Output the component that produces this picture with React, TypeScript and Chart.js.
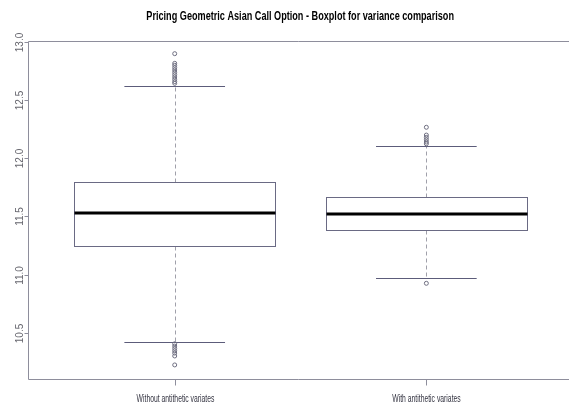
import React, { useEffect, useRef } from "react";
import { Chart, registerables } from "chart.js";

Chart.register(...registerables);

const chartTitle = "Pricing Geometric Asian Call Option - Boxplot for variance comparison";
const categories = ["Without antithetic variates", "With antithetic variates"];
const positions = [1, 2];
const lowerWhisker = [10.418, 10.968];
const q1 = [11.246, 11.383];
const median = [11.532, 11.524];
const q3 = [11.799, 11.67];
const upperWhisker = [12.622, 12.108];
const outliersWithout = [12.9, 12.817, 12.8, 12.78, 12.76, 12.74, 12.72, 12.7, 12.68, 12.66, 12.645, 10.405, 10.385, 10.365, 10.345, 10.325, 10.3, 10.223];
const outliersWith = [12.267, 12.2, 12.18, 12.16, 12.14, 12.125, 10.925];
const yTicks = [10.5, 11.0, 11.5, 12.0, 12.5, 13.0];
const yMin = 10.102;
const yMax = 13.009;
const xMin = 0.417;
const xMax = 2.547;
const boxWidth = 0.8;

function condensedText(ctx: CanvasRenderingContext2D, text: string, x: number, y: number, squeeze: number) {
  ctx.save();
  ctx.translate(x, y);
  ctx.scale(squeeze, 1);
  ctx.fillText(text, 0, 0);
  ctx.restore();
}

const boxPlugin = {
  id: "boxplotR",
  beforeDatasetsDraw(chart: any) {
    const { ctx } = chart;
    const xs = chart.scales.x;
    const ys = chart.scales.y;
    ctx.save();
    positions.forEach((p, i) => {
      const cx = Math.round(xs.getPixelForValue(p)) + 0.5;
      const left = xs.getPixelForValue(p - boxWidth / 2);
      const right = xs.getPixelForValue(p + boxWidth / 2);
      const capL = xs.getPixelForValue(p - boxWidth / 4);
      const capR = xs.getPixelForValue(p + boxWidth / 4);
      const yLW = Math.round(ys.getPixelForValue(lowerWhisker[i])) + 0.5;
      const yQ1 = Math.round(ys.getPixelForValue(q1[i])) + 0.5;
      const yMed = Math.round(ys.getPixelForValue(median[i]));
      const yQ3 = Math.round(ys.getPixelForValue(q3[i])) + 0.5;
      const yUW = Math.round(ys.getPixelForValue(upperWhisker[i])) + 0.5;
      ctx.strokeStyle = "#a0a0aa";
      ctx.lineWidth = 1;
      ctx.setLineDash([4, 3]);
      ctx.beginPath();
      ctx.moveTo(cx, yQ3);
      ctx.lineTo(cx, yUW);
      ctx.moveTo(cx, yQ1);
      ctx.lineTo(cx, yLW);
      ctx.stroke();
      ctx.setLineDash([]);
      ctx.strokeStyle = "#5c5c7a";
      ctx.beginPath();
      ctx.moveTo(capL, yUW);
      ctx.lineTo(capR, yUW);
      ctx.moveTo(capL, yLW);
      ctx.lineTo(capR, yLW);
      ctx.stroke();
      ctx.strokeStyle = "#6a6a84";
      ctx.fillStyle = "#ffffff";
      const l = Math.round(left) + 0.5;
      const r = Math.round(right) + 0.5;
      ctx.fillRect(l, yQ3, r - l, yQ1 - yQ3);
      ctx.strokeRect(l, yQ3, r - l, yQ1 - yQ3);
      ctx.strokeStyle = "#000000";
      ctx.lineWidth = 3;
      ctx.beginPath();
      ctx.moveTo(l, yMed);
      ctx.lineTo(r, yMed);
      ctx.stroke();
    });
    ctx.restore();
  },
  afterDraw(chart: any) {
    const { ctx, chartArea } = chart;
    const xs = chart.scales.x;
    const ys = chart.scales.y;
    ctx.save();
    ctx.strokeStyle = "#8e8e9c";
    ctx.lineWidth = 1;
    const L = Math.round(chartArea.left) + 0.5;
    const T = Math.round(chartArea.top) + 0.5;
    const B = Math.round(chartArea.bottom) + 0.5;
    ctx.beginPath();
    ctx.moveTo(chartArea.right + 5, T);
    ctx.lineTo(L, T);
    ctx.lineTo(L, B);
    ctx.lineTo(chartArea.right + 5, B);
    ctx.stroke();
    ctx.fillStyle = "#66666e";
    ctx.font = "10px 'Liberation Sans', Arial, sans-serif";
    ctx.textAlign = "center";
    ctx.textBaseline = "middle";
    yTicks.forEach((v) => {
      const y = Math.round(ys.getPixelForValue(v)) + 0.5;
      ctx.beginPath();
      ctx.moveTo(L - 4, y);
      ctx.lineTo(L, y);
      ctx.stroke();
      ctx.save();
      ctx.translate(L - 8, y);
      ctx.rotate(-Math.PI / 2);
      ctx.fillText(v.toFixed(1), 0, 0);
      ctx.restore();
    });
    ctx.fillStyle = "#333340";
    ctx.font = "10px 'Liberation Sans', Arial, sans-serif";
    positions.forEach((p, i) => {
      const x = Math.round(xs.getPixelForValue(p)) + 0.5;
      ctx.beginPath();
      ctx.moveTo(x, B);
      ctx.lineTo(x, B + 6);
      ctx.stroke();
      condensedText(ctx, categories[i], x, B + 20, 0.68);
    });
    ctx.fillStyle = "#000000";
    ctx.font = "bold 12px 'Liberation Sans', Arial, sans-serif";
    ctx.textBaseline = "alphabetic";
    condensedText(ctx, chartTitle, (chartArea.left + xs.getPixelForValue(2.58)) / 2, 20, 0.76);
    ctx.restore();
  },
};

export default function App() {
  const ref = useRef<HTMLCanvasElement | null>(null);
  useEffect(() => {
    if (!ref.current) return;
    const pts = (p: number, arr: number[]) => arr.map((v) => ({ x: p, y: v }));
    const chart = new Chart(ref.current, {
      type: "scatter",
      data: {
        datasets: [
          {
            label: categories[0],
            data: pts(positions[0], outliersWithout),
            pointStyle: "circle",
            pointRadius: 2,
            borderColor: "#6e6e80",
            backgroundColor: "rgba(255,255,255,0)",
            borderWidth: 1,
          },
          {
            label: categories[1],
            data: pts(positions[1], outliersWith),
            pointStyle: "circle",
            pointRadius: 2,
            borderColor: "#6e6e80",
            backgroundColor: "rgba(255,255,255,0)",
            borderWidth: 1,
          },
        ],
      },
      options: {
        animation: false,
        responsive: false,
        events: [],
        layout: { padding: { left: 28, top: 41, right: 0, bottom: 28 } },
        scales: {
          x: { type: "linear", min: xMin, max: xMax, display: false },
          y: { type: "linear", min: yMin, max: yMax, display: false },
        },
        plugins: { legend: { display: false }, tooltip: { enabled: false }, title: { display: false } },
      },
      plugins: [boxPlugin],
    });
    return () => chart.destroy();
  }, []);
  return (
    <div style={{ position: "fixed", left: 0, top: 0, width: 569, height: 407, background: "#fff" }}>
      <canvas ref={ref} width={569} height={407} />
    </div>
  );
}
